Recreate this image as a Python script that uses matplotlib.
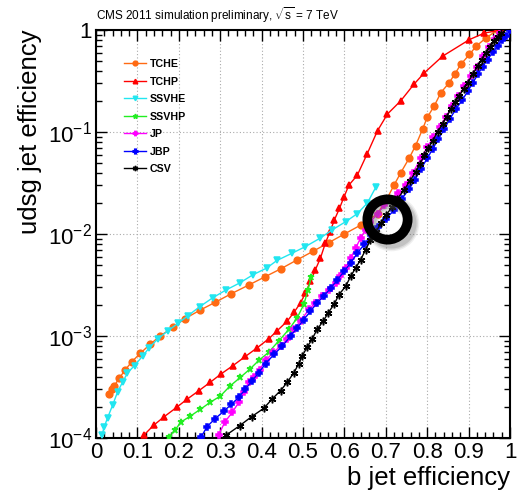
import matplotlib
matplotlib.use("Agg")
import matplotlib.pyplot as plt
import matplotlib.ticker as mticker
import matplotlib.transforms as mtrans

plt.rcParams['font.family'] = ['Liberation Sans', 'DejaVu Sans']
plt.rcParams['mathtext.fontset'] = 'custom'
plt.rcParams['mathtext.rm'] = 'Liberation Sans'
plt.rcParams['mathtext.it'] = 'Liberation Sans:italic'
plt.rcParams['mathtext.bf'] = 'Liberation Sans:bold'

# values (b eff, udsg mistag)
tche_x = [0.032, 0.038, 0.044, 0.056, 0.071, 0.087, 0.107, 0.131, 0.155, 0.186, 0.215, 0.250,
          0.288, 0.327, 0.369, 0.408, 0.447, 0.486, 0.524, 0.562, 0.600, 0.639, 0.680, 0.702,
          0.720, 0.736, 0.756, 0.772, 0.789, 0.800, 0.817, 0.833, 0.853, 0.867, 0.881, 0.902,
          0.918, 0.942, 0.970]
tche_y = [2.67e-4, 3.02e-4, 3.24e-4, 3.85e-4, 4.68e-4, 5.62e-4, 6.76e-4, 8.32e-4, 1.0e-3,
          1.22e-3, 1.48e-3, 1.78e-3, 2.14e-3, 2.60e-3, 3.16e-3, 3.80e-3, 4.57e-3, 5.58e-3,
          6.76e-3, 8.22e-3, 1.0e-2, 1.22e-2, 1.58e-2, 2.19e-2, 3.02e-2, 3.98e-2, 5.50e-2,
          7.36e-2, 0.107, 0.139, 0.180, 0.243, 0.304, 0.372, 0.459, 0.575, 0.692, 0.836, 1.0]

tchp_x = [0.117, 0.139, 0.165, 0.195, 0.220, 0.249, 0.276, 0.303, 0.331, 0.361, 0.389, 0.418,
          0.437, 0.462, 0.478, 0.494, 0.506, 0.518, 0.530, 0.542, 0.554, 0.565, 0.576, 0.588,
          0.599, 0.611, 0.631, 0.655, 0.680, 0.704, 0.736, 0.768, 0.793, 0.837, 0.902, 0.938,
          0.978]
tchp_y = [1.08e-4, 1.33e-4, 1.62e-4, 2.0e-4, 2.40e-4, 2.92e-4, 3.52e-4, 4.27e-4, 5.13e-4,
          6.31e-4, 7.64e-4, 9.44e-4, 1.12e-3, 1.40e-3, 1.70e-3, 2.11e-3, 2.65e-3, 3.44e-3,
          4.47e-3, 5.79e-3, 8.13e-3, 1.05e-2, 1.38e-2, 1.78e-2, 2.31e-2, 3.02e-2, 3.76e-2,
          6.11e-2, 0.103, 0.150, 0.202, 0.294, 0.380, 0.553, 0.805, 0.933, 1.0]

ssvhe_x = [0.0145, 0.020, 0.028, 0.040, 0.052, 0.064, 0.076, 0.093, 0.113, 0.129, 0.149, 0.173,
           0.198, 0.222, 0.250, 0.282, 0.313, 0.347, 0.379, 0.412, 0.437, 0.474, 0.506, 0.541,
           0.571, 0.603, 0.631, 0.655, 0.676]
ssvhe_y = [1.07e-4, 1.29e-4, 1.58e-4, 2.09e-4, 2.82e-4, 3.52e-4, 4.34e-4, 5.13e-4, 6.38e-4,
           7.71e-4, 9.33e-4, 1.12e-3, 1.33e-3, 1.58e-3, 1.93e-3, 2.37e-3, 2.81e-3, 3.31e-3,
           3.98e-3, 4.63e-3, 5.50e-3, 6.49e-3, 7.53e-3, 9.08e-3, 1.10e-2, 1.32e-2, 1.58e-2,
           2.0e-2, 2.88e-2]

ssvhp_x = [0.176, 0.190, 0.206, 0.228, 0.252, 0.276, 0.300, 0.324, 0.349, 0.373, 0.393, 0.417,
           0.441, 0.466, 0.486, 0.502, 0.512, 0.520]
ssvhp_y = [1.02e-4, 1.19e-4, 1.44e-4, 1.64e-4, 1.91e-4, 2.24e-4, 2.57e-4, 3.24e-4, 3.94e-4,
           4.79e-4, 5.75e-4, 6.92e-4, 8.91e-4, 1.16e-3, 1.51e-3, 2.04e-3, 2.82e-3, 3.80e-3]

jp_x = [0.296, 0.312, 0.329, 0.345, 0.357, 0.369, 0.381, 0.395, 0.410, 0.428, 0.446, 0.462,
        0.478, 0.494, 0.514, 0.530, 0.546, 0.562, 0.579, 0.590, 0.603, 0.615, 0.627, 0.639,
        0.651, 0.663, 0.680, 0.696, 0.712, 0.730, 0.748, 0.765, 0.785, 0.800, 0.815, 0.830,
        0.845, 0.860, 0.875, 0.890, 0.905, 0.920, 0.935, 0.950, 0.963, 0.975]
jp_y = [1.07e-4, 1.45e-4, 1.78e-4, 2.24e-4, 2.82e-4, 3.55e-4, 3.98e-4, 4.68e-4, 5.75e-4,
        6.92e-4, 7.94e-4, 9.33e-4, 1.16e-3, 1.40e-3, 1.82e-3, 2.11e-3, 2.45e-3, 2.85e-3,
        3.31e-3, 3.84e-3, 4.63e-3, 5.79e-3, 7.24e-3, 9.12e-3, 1.10e-2, 1.32e-2, 1.58e-2,
        1.91e-2, 2.19e-2, 2.51e-2, 3.02e-2, 3.98e-2, 5.50e-2, 7.08e-2, 8.91e-2, 0.112,
        0.141, 0.178, 0.224, 0.282, 0.355, 0.437, 0.550, 0.676, 0.813, 0.933]

jbp_x = [0.254, 0.268, 0.288, 0.308, 0.327, 0.345, 0.361, 0.377, 0.393, 0.410, 0.430, 0.450,
         0.470, 0.486, 0.502, 0.518, 0.534, 0.550, 0.567, 0.583, 0.599, 0.615, 0.631, 0.648,
         0.665, 0.682, 0.700, 0.720, 0.738, 0.756, 0.770, 0.785, 0.800, 0.813, 0.827, 0.841,
         0.855, 0.869, 0.884, 0.898, 0.910, 0.922, 0.934, 0.946, 0.958, 0.970, 0.980, 0.990,
         1.0]
jbp_y = [1.02e-4, 1.29e-4, 1.55e-4, 1.82e-4, 2.14e-4, 2.51e-4, 3.02e-4, 3.63e-4, 4.37e-4,
         5.37e-4, 6.61e-4, 7.94e-4, 1.0e-3, 1.20e-3, 1.45e-3, 1.75e-3, 2.11e-3, 2.45e-3,
         2.95e-3, 3.55e-3, 4.30e-3, 5.19e-3, 6.46e-3, 7.94e-3, 9.77e-3, 1.17e-2, 1.41e-2,
         1.71e-2, 2.19e-2, 2.75e-2, 3.39e-2, 4.37e-2, 5.50e-2, 6.82e-2, 8.51e-2, 0.107,
         0.135, 0.167, 0.204, 0.251, 0.302, 0.367, 0.437, 0.513, 0.603, 0.692, 0.794, 0.871,
         1.0]

csv_x = [0.315, 0.347, 0.376, 0.405, 0.425, 0.446, 0.462, 0.478, 0.490, 0.498, 0.510, 0.522,
         0.534, 0.549, 0.561, 0.575, 0.587, 0.603, 0.615, 0.627, 0.639, 0.651, 0.663, 0.676,
         0.688, 0.700, 0.716, 0.728, 0.744, 0.758, 0.772, 0.783, 0.793, 0.803, 0.813, 0.825,
         0.837, 0.847, 0.857, 0.867, 0.877, 0.888, 0.898, 0.910, 0.922, 0.932, 0.942, 0.952,
         0.962, 0.970, 0.978]
csv_y = [1.07e-4, 1.32e-4, 1.62e-4, 1.95e-4, 2.40e-4, 2.92e-4, 3.52e-4, 4.37e-4, 5.37e-4,
         6.38e-4, 7.76e-4, 9.33e-4, 1.16e-3, 1.40e-3, 1.69e-3, 2.04e-3, 2.55e-3, 3.07e-3,
         3.84e-3, 4.63e-3, 5.58e-3, 6.98e-3, 8.75e-3, 1.05e-2, 1.27e-2, 1.53e-2, 1.85e-2,
         2.22e-2, 2.69e-2, 3.31e-2, 4.05e-2, 4.90e-2, 5.89e-2, 6.92e-2, 8.22e-2, 0.100,
         0.120, 0.141, 0.167, 0.195, 0.226, 0.263, 0.304, 0.367, 0.442, 0.513, 0.596, 0.684,
         0.776, 0.851, 0.933]

# highlighted working point
circle_x = 0.704
circle_y = 0.0141

x_ticks = [0, 0.1, 0.2, 0.3, 0.4, 0.5, 0.6, 0.7, 0.8, 0.9, 1]
x_tick_labels = ['0', '0.1', '0.2', '0.3', '0.4', '0.5', '0.6', '0.7', '0.8', '0.9', '1']
y_ticks = [1e-4, 1e-3, 1e-2, 1e-1, 1]
y_tick_labels = ['$10^{-4}$', '$10^{-3}$', '$10^{-2}$', '$10^{-1}$', '1']

fig = plt.figure(figsize=(5.17, 4.94), dpi=100)
ax = fig.add_axes([0.1857, 0.1134, 0.8008, 0.8259])

series = [
    ('TCHE', tche_x, tche_y, '#ff6a13', 'o', 4.8),
    ('TCHP', tchp_x, tchp_y, '#ff0000', '^', 4.6),
    ('SSVHE', ssvhe_x, ssvhe_y, '#22e6f0', 'v', 4.6),
    ('SSVHP', ssvhp_x, ssvhp_y, '#22ee22', '*', 5.0),
    ('JP', jp_x, jp_y, '#ff00ff', 'P', 4.3),
    ('JBP', jbp_x, jbp_y, '#0000ff', 'P', 4.8),
    ('CSV', csv_x, csv_y, '#000000', (6, 2, 0), 5.5),
]
for name, xs, ys, col, mk, ms in series:
    ax.plot(xs, ys, color=col, lw=1.0, marker=mk, ms=ms, mfc=col, mec=col,
            mew=1.1, label=name, clip_on=True, zorder=3)

ax.set_yscale('log')
ax.set_xlim(0, 1)
ax.set_ylim(1e-4, 1)

ax.set_xticks(x_ticks)
ax.set_xticklabels(x_tick_labels)
ax.xaxis.set_minor_locator(mticker.MultipleLocator(0.02))
ax.set_yticks(y_ticks)
ax.set_yticklabels(y_tick_labels)
ax.yaxis.set_minor_locator(mticker.LogLocator(base=10, subs=range(2, 10)))
ax.yaxis.set_minor_formatter(mticker.NullFormatter())

ax.tick_params(which='both', direction='in', top=True, right=True, width=1.0)
ax.tick_params(which='major', length=8, labelsize=16, pad=3)
ax.tick_params(which='minor', length=4)
for sp in ax.spines.values():
    sp.set_linewidth(1.5)

ax.grid(True, which='major', color='#aaaaaa', lw=0.8, ls=(0, (1, 2)), zorder=0)

ax.set_xlabel('b jet efficiency', fontsize=18.5, loc='right', labelpad=2)
ax.set_ylabel('udsg jet efficiency', fontsize=18.5, loc='top', labelpad=4)

ax.text(0.0, 1.012, r'CMS 2011 simulation preliminary, $\sqrt{\mathrm{s}}$ = 7 TeV',
        transform=ax.transAxes, fontsize=8.5, ha='left', va='bottom')

leg = ax.legend(loc='upper left', bbox_to_anchor=(0.045, 0.952), frameon=False,
                prop={'weight': 'bold', 'size': 7.7}, handlelength=2.0,
                handletextpad=0.4, labelspacing=0.7, markerscale=0.7)

# shadow + ring around the working point
shadow = mtrans.offset_copy(ax.transData, fig=fig, x=2.5, y=-3.0, units='points')
for lw_s, a in [(11, 0.10), (9, 0.15), (7, 0.2)]:
    ax.plot([circle_x], [circle_y], marker='o', ms=29, mfc='none', mec='#666666',
            mew=lw_s, alpha=a, transform=shadow, zorder=5, clip_on=False)
ax.plot([circle_x], [circle_y], marker='o', ms=29, mfc='none', mec='black',
        mew=7.0, zorder=6, clip_on=False)

fig.savefig('out.png', dpi=100)
